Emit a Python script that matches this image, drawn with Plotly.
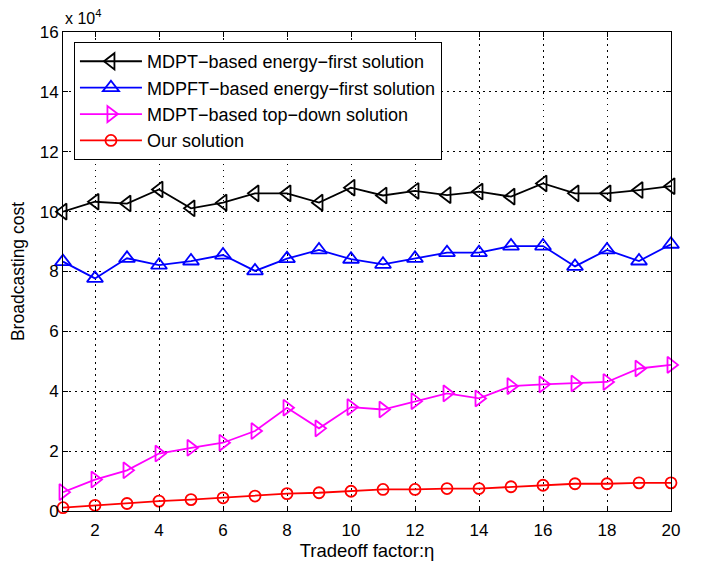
import plotly.graph_objects as go

# Tradeoff factor values (x axis)
eta = list(range(1, 21))

# Broadcasting cost, in units of 10^4
mdpt_energy_first = [10.0, 10.33, 10.27, 10.74, 10.11, 10.3, 10.61, 10.61, 10.3, 10.8,
                     10.54, 10.69, 10.55, 10.67, 10.5, 10.94, 10.61, 10.61, 10.72, 10.85]
mdpft_energy_first = [8.33, 7.77, 8.44, 8.21, 8.35, 8.55, 8.02, 8.43, 8.72, 8.41,
                      8.24, 8.44, 8.63, 8.63, 8.85, 8.85, 8.17, 8.72, 8.35, 8.91]
mdpt_top_down = [0.63, 1.05, 1.36, 1.92, 2.11, 2.28, 2.67, 3.45, 2.76, 3.47,
                 3.39, 3.67, 3.93, 3.76, 4.17, 4.23, 4.26, 4.31, 4.76, 4.88]
our_solution = [0.11, 0.19, 0.25, 0.33, 0.38, 0.44, 0.50, 0.58, 0.61, 0.66,
                0.72, 0.72, 0.75, 0.75, 0.81, 0.86, 0.91, 0.91, 0.94, 0.94]

series_names = ["MDPT\u2212based energy\u2212first solution",
                "MDPFT\u2212based energy\u2212first solution",
                "MDPT\u2212based top\u2212down solution",
                "Our solution"]
x_ticks = list(range(2, 21, 2))
y_ticks = list(range(0, 17, 2))

FONT = "Liberation Sans, Arial, sans-serif"

styles = [
    (mdpt_energy_first, "black", "triangle-left-open", 14),
    (mdpft_energy_first, "#0000ff", "triangle-up-open", 14),
    (mdpt_top_down, "#ff00ff", "triangle-right-open", 14),
    (our_solution, "#ff0000", "circle-open", 11),
]

fig = go.Figure()
for name, (vals, color, symbol, size) in zip(series_names, styles):
    fig.add_trace(go.Scatter(
        x=eta, y=vals, name=name, mode="lines+markers",
        line=dict(color=color, width=1.8),
        marker=dict(symbol=symbol, size=size, color=color,
                    line=dict(color=color, width=1.8)),
        cliponaxis=False,
    ))

axis_common = dict(
    showline=True, linecolor="black", linewidth=1, mirror="allticks",
    ticks="inside", ticklen=5, tickcolor="black",
    showgrid=True, gridcolor="black", griddash="1.5px,4.5px", gridwidth=1,
    zeroline=False, automargin=False,
    tickfont=dict(family=FONT, size=17, color="black"),
)

fig.update_xaxes(range=[1, 20], tickvals=x_ticks, ticklabelstandoff=4,
                 title=dict(text="Tradeoff factor:\u03b7", standoff=4,
                            font=dict(family=FONT, size=18.5, color="black")),
                 **axis_common)
fig.update_yaxes(range=[0, 16], tickvals=y_ticks,
                 title=dict(text="Broadcasting cost", standoff=10,
                            font=dict(family=FONT, size=17.5, color="black")),
                 **axis_common)

fig.add_annotation(text="x 10<sup>4</sup>", xref="paper", yref="paper",
                   x=0.0, y=1.0, xanchor="left", yanchor="bottom", yshift=3,
                   showarrow=False, font=dict(family=FONT, size=16, color="black"))

fig.update_layout(
    width=702, height=564,
    margin=dict(l=63, r=31, t=32, b=53),
    paper_bgcolor="white", plot_bgcolor="white",
    showlegend=True,
    legend=dict(x=0.018, y=0.979, xanchor="left", yanchor="top",
                bgcolor="white", bordercolor="black", borderwidth=1,
                font=dict(family=FONT, size=18, color="black"),
                itemwidth=62, tracegroupgap=0),
)

fig.write_html("out.html")
